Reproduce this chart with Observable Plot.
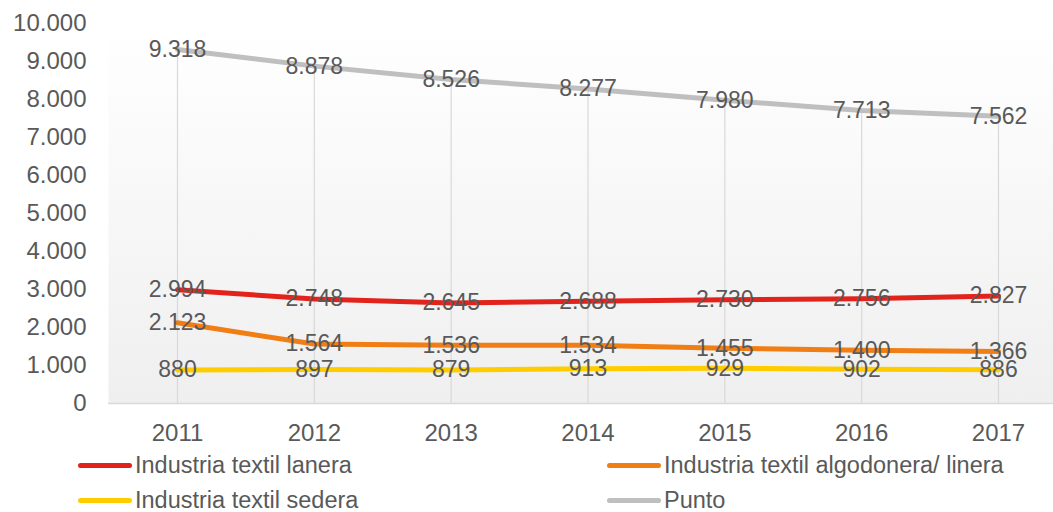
<!DOCTYPE html>
<html>
<head>
<meta charset="utf-8">
<script src="https://cdn.jsdelivr.net/npm/d3@7"></script>
<script src="https://cdn.jsdelivr.net/npm/@observablehq/plot@0.6"></script>
<style>
  html, body { margin: 0; padding: 0; background: #fff; overflow: hidden; }
  body { font-family: "Liberation Sans", Arial, sans-serif; color: #595959; }
  #legend { position: relative; width: 1053px; height: 64px; }
  .item { position: absolute; display: flex; align-items: center; font-size: 23.5px; line-height: 24px; white-space: nowrap; }
  .swatch { width: 54px; height: 5px; border-radius: 2.5px; margin-right: 3px; }
</style>
</head>
<body>
<div id="chart"></div>
<div id="legend"></div>
<script>
const years = [2011, 2012, 2013, 2014, 2015, 2016, 2017];
const lanera = [2994, 2748, 2645, 2688, 2730, 2756, 2827];
const algodonera = [2123, 1564, 1536, 1534, 1455, 1400, 1366];
const sedera = [880, 897, 879, 913, 929, 902, 886];
const punto = [9318, 8878, 8526, 8277, 7980, 7713, 7562];
const seriesNames = ["Industria textil lanera", "Industria textil algodonera/ linera", "Industria textil sedera", "Punto"];
const seriesColors = ["#e2231c", "#f07e14", "#ffcc00", "#bfbfbf"];
const yTicks = [0, 1000, 2000, 3000, 4000, 5000, 6000, 7000, 8000, 9000, 10000];

const seriesValues = [lanera, algodonera, sedera, punto];
const table = [];
seriesNames.forEach((name, s) => {
  years.forEach((year, i) => table.push({series: name, year, value: seriesValues[s][i]}));
});
const drops = years.map((year, i) => ({year, top: punto[i]}));

const fmt = d3.formatLocale({decimal: ",", thousands: ".", grouping: [3], currency: ["", ""]}).format(",");

const gradientDefs = () => {
  const defs = d3.create("svg:defs");
  const g = defs.append("linearGradient").attr("id", "bg").attr("x1", 0).attr("y1", 0).attr("x2", 0).attr("y2", 1);
  g.append("stop").attr("offset", "0%").attr("stop-color", "#ffffff");
  g.append("stop").attr("offset", "100%").attr("stop-color", "#efefef");
  return defs.node();
};

const chart = Plot.plot({
  width: 1053,
  height: 448,
  marginLeft: 108,
  marginRight: 0,
  marginTop: 23,
  marginBottom: 45,
  style: {fontFamily: "'Liberation Sans', Arial, sans-serif", color: "#595959", background: "#fff"},
  x: {type: "linear", domain: [2011, 2017], range: [177, 998], label: null},
  y: {domain: [0, 10000], label: null},
  color: {domain: seriesNames, range: seriesColors},
  marks: [
    gradientDefs,
    Plot.frame({fill: "url(#bg)", stroke: "none"}),
    Plot.ruleX(drops, {x: "year", y1: 0, y2: "top", stroke: "#d9d9d9", strokeWidth: 1.2}),
    Plot.ruleY([0], {stroke: "#d9d9d9", strokeWidth: 1.5}),
    Plot.line(table, {x: "year", y: "value", z: "series", stroke: "series", strokeWidth: 5, strokeLinecap: "round", strokeLinejoin: "round"}),
    Plot.text(table, {x: "year", y: "value", text: d => fmt(d.value), fill: "#595959", fontSize: 23}),
    Plot.axisY({ticks: yTicks, tickFormat: fmt, tickSize: 0, tickPadding: 22, fontSize: 24, label: null}),
    Plot.axisX({ticks: years, tickFormat: d => String(d), tickSize: 0, tickPadding: 20, fontSize: 24, label: null})
  ]
});
document.getElementById("chart").appendChild(chart);

const legend = document.getElementById("legend");
const positions = [[78, 17], [607, 17], [78, 52], [607, 52]];
seriesNames.forEach((name, i) => {
  const item = document.createElement("div");
  item.className = "item";
  item.style.left = positions[i][0] + "px";
  item.style.top = (positions[i][1] - 12) + "px";
  item.style.height = "24px";
  const sw = document.createElement("span");
  sw.className = "swatch";
  sw.style.background = seriesColors[i];
  const label = document.createElement("span");
  label.textContent = name;
  item.appendChild(sw);
  item.appendChild(label);
  legend.appendChild(item);
});
</script>
</body>
</html>
